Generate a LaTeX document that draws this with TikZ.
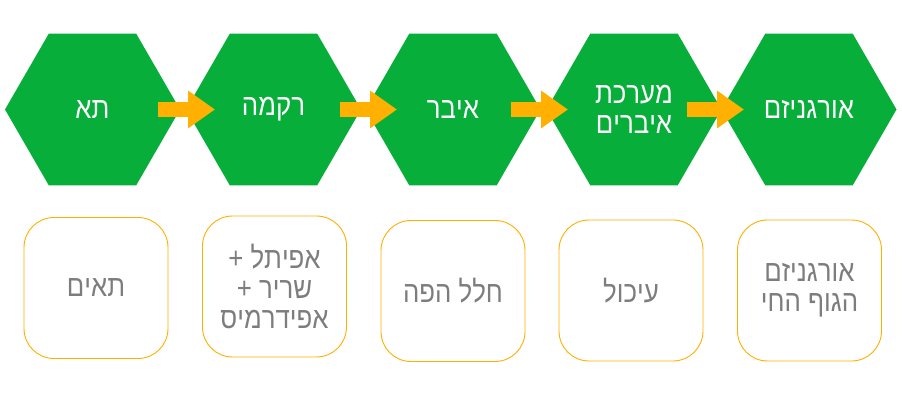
\documentclass[tikz,border=0pt]{standalone}
\usepackage{fontspec}
\setmainfont{Liberation Sans}[FakeStretch=0.86]
\TeXXeTstate=1
\usetikzlibrary{shapes.geometric,arrows.meta}
\definecolor{hexgreen}{RGB}{7,174,58}
\definecolor{flowamber}{RGB}{255,176,0}
\definecolor{boxgray}{RGB}{125,125,125}
\newcommand{\heb}[1]{\beginR #1\endR}
\tikzset{
  stage/.style={regular polygon,regular polygon sides=6,minimum size=175pt,
    inner sep=0pt,outer sep=0pt,fill=hexgreen,text=white,align=center,
    font=\fontsize{30}{30}\selectfont},
  sample/.style={rectangle,draw=flowamber,line width=0.9pt,rounded corners=30pt,
    minimum width=144pt,minimum height=141pt,inner sep=0pt,text=boxgray,
    align=center,font=\fontsize{30}{30}\selectfont},
  flow/.style={draw=flowamber,line width=15pt,-{Triangle[width=36pt,length=27pt]}}
}
\begin{document}
\begin{tikzpicture}[x=1pt,y=-1pt]
  \useasboundingbox (0,0) rectangle (902,403);
  \draw
    (92.5,109.5) node[stage] (0){\heb{תא}}
    (273.5,109.5) node[stage] (1){\heb{רקמה}}
    (453,109.5) node[stage] (2){\heb{איבר}}
    (634,109.5) node[stage] (3){\heb{מערכת}\\\heb{איברים}}
    (809,109.5) node[stage] (4){\heb{אורגניזם}};
  \draw
    (96,288) node[sample] (b0){\heb{תאים}}
    (274.5,286.5) node[sample] (b1){\heb{אפיתל +}\\\heb{שריר +}\\\heb{אפידרמיס}}
    (453,291) node[sample] (b2){\heb{חלל הפה}}
    (631,290.5) node[sample] (b3){\heb{עיכול}}
    (809.5,290.5) node[sample] (b4){\heb{אורגניזם}\\\heb{הגוף החי}};
  \begin{scope}[flow]
    \draw[shorten <=65.5pt,shorten >=58.5pt] (0.center) to (1.center);
    \draw[shorten <=66.5pt,shorten >=56pt] (1.center) to (2.center);
    \draw[shorten <=58pt,shorten >=66pt] (2.center) to (3.center);
    \draw[shorten <=53pt,shorten >=65pt] (3.center) to (4.center);
  \end{scope}
\end{tikzpicture}
\end{document}
